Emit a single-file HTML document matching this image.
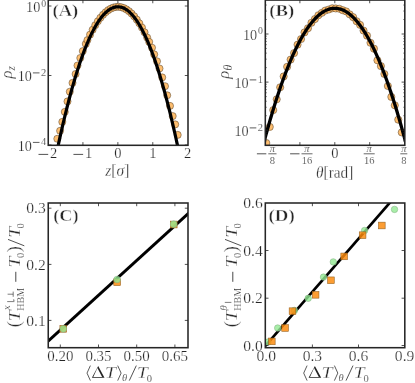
<!DOCTYPE html>
<html lang="en"><head><meta charset="utf-8"><title>figure</title>
<style>html,body{margin:0;padding:0;background:#fff;}svg{display:block;will-change:transform;font-family:"Liberation Serif",serif;}text{fill:#262626;}.t{stroke:#fff;stroke-width:0.24px;}.s{stroke:#fff;stroke-width:0.2px;}.u{stroke:#fff;stroke-width:0.3px;}</style>
</head><body>
<svg width="415" height="383" viewBox="0 0 415 383">
<rect width="415" height="383" fill="#fff"/>
<defs>
<clipPath id="cA"><rect x="48.4" y="0.6" width="139.6" height="144.7"/></clipPath>
<clipPath id="cB"><rect x="265.3" y="0.6" width="139.6" height="144.7"/></clipPath>
<clipPath id="cC"><rect x="48.4" y="203" width="139.6" height="144.7"/></clipPath>
<clipPath id="cD"><rect x="265.3" y="203" width="139.6" height="144.7"/></clipPath>
</defs>
<g clip-path="url(#cA)">
<circle cx="57.30" cy="138.80" r="3.55" fill="#fdbb68" fill-opacity="0.95" stroke="#3a2a18" stroke-width="0.45"/>
<circle cx="60.10" cy="130.80" r="3.55" fill="#fdbb68" fill-opacity="0.95" stroke="#3a2a18" stroke-width="0.45"/>
<circle cx="62.30" cy="121.90" r="3.55" fill="#fdbb68" fill-opacity="0.95" stroke="#3a2a18" stroke-width="0.45"/>
<circle cx="64.80" cy="111.90" r="3.55" fill="#fdbb68" fill-opacity="0.95" stroke="#3a2a18" stroke-width="0.45"/>
<circle cx="67.50" cy="101.40" r="3.55" fill="#fdbb68" fill-opacity="0.95" stroke="#3a2a18" stroke-width="0.45"/>
<circle cx="69.80" cy="91.70" r="3.55" fill="#fdbb68" fill-opacity="0.95" stroke="#3a2a18" stroke-width="0.45"/>
<circle cx="72.50" cy="82.90" r="3.55" fill="#fdbb68" fill-opacity="0.95" stroke="#3a2a18" stroke-width="0.45"/>
<circle cx="75.60" cy="74.00" r="3.55" fill="#fdbb68" fill-opacity="0.95" stroke="#3a2a18" stroke-width="0.45"/>
<circle cx="77.50" cy="65.50" r="3.55" fill="#fdbb68" fill-opacity="0.95" stroke="#3a2a18" stroke-width="0.45"/>
<circle cx="80.30" cy="58.00" r="3.55" fill="#fdbb68" fill-opacity="0.95" stroke="#3a2a18" stroke-width="0.45"/>
<circle cx="82.80" cy="51.10" r="3.55" fill="#fdbb68" fill-opacity="0.95" stroke="#3a2a18" stroke-width="0.45"/>
<circle cx="85.80" cy="43.90" r="3.55" fill="#fdbb68" fill-opacity="0.95" stroke="#3a2a18" stroke-width="0.45"/>
<circle cx="87.45" cy="40.08" r="3.55" fill="#fdbb68" fill-opacity="0.95" stroke="#3a2a18" stroke-width="0.45"/>
<circle cx="90.05" cy="34.65" r="3.55" fill="#fdbb68" fill-opacity="0.95" stroke="#3a2a18" stroke-width="0.45"/>
<circle cx="92.64" cy="29.70" r="3.55" fill="#fdbb68" fill-opacity="0.95" stroke="#3a2a18" stroke-width="0.45"/>
<circle cx="95.24" cy="25.23" r="3.55" fill="#fdbb68" fill-opacity="0.95" stroke="#3a2a18" stroke-width="0.45"/>
<circle cx="97.84" cy="21.25" r="3.55" fill="#fdbb68" fill-opacity="0.95" stroke="#3a2a18" stroke-width="0.45"/>
<circle cx="100.43" cy="17.75" r="3.55" fill="#fdbb68" fill-opacity="0.95" stroke="#3a2a18" stroke-width="0.45"/>
<circle cx="103.03" cy="14.74" r="3.55" fill="#fdbb68" fill-opacity="0.95" stroke="#3a2a18" stroke-width="0.45"/>
<circle cx="105.62" cy="12.21" r="3.55" fill="#fdbb68" fill-opacity="0.95" stroke="#3a2a18" stroke-width="0.45"/>
<circle cx="108.22" cy="10.16" r="3.55" fill="#fdbb68" fill-opacity="0.95" stroke="#3a2a18" stroke-width="0.45"/>
<circle cx="110.82" cy="8.60" r="3.55" fill="#fdbb68" fill-opacity="0.95" stroke="#3a2a18" stroke-width="0.45"/>
<circle cx="113.41" cy="7.52" r="3.55" fill="#fdbb68" fill-opacity="0.95" stroke="#3a2a18" stroke-width="0.45"/>
<circle cx="116.01" cy="6.93" r="3.55" fill="#fdbb68" fill-opacity="0.95" stroke="#3a2a18" stroke-width="0.45"/>
<circle cx="118.60" cy="6.82" r="3.55" fill="#fdbb68" fill-opacity="0.95" stroke="#3a2a18" stroke-width="0.45"/>
<circle cx="121.20" cy="7.19" r="3.55" fill="#fdbb68" fill-opacity="0.95" stroke="#3a2a18" stroke-width="0.45"/>
<circle cx="123.80" cy="8.05" r="3.55" fill="#fdbb68" fill-opacity="0.95" stroke="#3a2a18" stroke-width="0.45"/>
<circle cx="126.39" cy="9.39" r="3.55" fill="#fdbb68" fill-opacity="0.95" stroke="#3a2a18" stroke-width="0.45"/>
<circle cx="128.99" cy="11.21" r="3.55" fill="#fdbb68" fill-opacity="0.95" stroke="#3a2a18" stroke-width="0.45"/>
<circle cx="131.58" cy="13.52" r="3.55" fill="#fdbb68" fill-opacity="0.95" stroke="#3a2a18" stroke-width="0.45"/>
<circle cx="134.18" cy="16.31" r="3.55" fill="#fdbb68" fill-opacity="0.95" stroke="#3a2a18" stroke-width="0.45"/>
<circle cx="136.78" cy="19.59" r="3.55" fill="#fdbb68" fill-opacity="0.95" stroke="#3a2a18" stroke-width="0.45"/>
<circle cx="139.37" cy="23.35" r="3.55" fill="#fdbb68" fill-opacity="0.95" stroke="#3a2a18" stroke-width="0.45"/>
<circle cx="141.97" cy="27.59" r="3.55" fill="#fdbb68" fill-opacity="0.95" stroke="#3a2a18" stroke-width="0.45"/>
<circle cx="144.56" cy="32.32" r="3.55" fill="#fdbb68" fill-opacity="0.95" stroke="#3a2a18" stroke-width="0.45"/>
<circle cx="147.16" cy="37.53" r="3.55" fill="#fdbb68" fill-opacity="0.95" stroke="#3a2a18" stroke-width="0.45"/>
<circle cx="149.20" cy="41.90" r="3.55" fill="#fdbb68" fill-opacity="0.95" stroke="#3a2a18" stroke-width="0.45"/>
<circle cx="152.00" cy="47.70" r="3.55" fill="#fdbb68" fill-opacity="0.95" stroke="#3a2a18" stroke-width="0.45"/>
<circle cx="154.20" cy="54.40" r="3.55" fill="#fdbb68" fill-opacity="0.95" stroke="#3a2a18" stroke-width="0.45"/>
<circle cx="157.00" cy="61.30" r="3.55" fill="#fdbb68" fill-opacity="0.95" stroke="#3a2a18" stroke-width="0.45"/>
<circle cx="159.50" cy="68.50" r="3.55" fill="#fdbb68" fill-opacity="0.95" stroke="#3a2a18" stroke-width="0.45"/>
<circle cx="162.20" cy="77.40" r="3.55" fill="#fdbb68" fill-opacity="0.95" stroke="#3a2a18" stroke-width="0.45"/>
<circle cx="165.00" cy="86.20" r="3.55" fill="#fdbb68" fill-opacity="0.95" stroke="#3a2a18" stroke-width="0.45"/>
<circle cx="167.20" cy="95.30" r="3.55" fill="#fdbb68" fill-opacity="0.95" stroke="#3a2a18" stroke-width="0.45"/>
<circle cx="170.00" cy="105.90" r="3.55" fill="#fdbb68" fill-opacity="0.95" stroke="#3a2a18" stroke-width="0.45"/>
<circle cx="172.70" cy="116.10" r="3.55" fill="#fdbb68" fill-opacity="0.95" stroke="#3a2a18" stroke-width="0.45"/>
<circle cx="175.20" cy="124.40" r="3.55" fill="#fdbb68" fill-opacity="0.95" stroke="#3a2a18" stroke-width="0.45"/>
<circle cx="177.70" cy="134.90" r="3.55" fill="#fdbb68" fill-opacity="0.95" stroke="#3a2a18" stroke-width="0.45"/>
<polyline points="40.0,242.86 41.0,236.84 42.0,230.89 43.0,225.02 44.0,219.23 45.0,213.51 46.0,207.88 47.0,202.32 48.0,196.84 49.0,191.44 50.0,186.11 51.0,180.86 52.0,175.70 53.0,170.61 54.0,165.59 55.0,160.66 56.0,155.80 57.0,151.02 58.0,146.32 59.0,141.70 60.0,137.15 61.0,132.68 62.0,128.29 63.0,123.98 64.0,119.75 65.0,115.59 66.0,111.51 67.0,107.51 68.0,103.59 69.0,99.75 70.0,95.98 71.0,92.29 72.0,88.68 73.0,85.15 74.0,81.69 75.0,78.32 76.0,75.02 77.0,71.80 78.0,68.65 79.0,65.59 80.0,62.60 81.0,59.69 82.0,56.86 83.0,54.11 84.0,51.43 85.0,48.83 86.0,46.31 87.0,43.87 88.0,41.51 89.0,39.22 90.0,37.01 91.0,34.88 92.0,32.83 93.0,30.85 94.0,28.96 95.0,27.14 96.0,25.40 97.0,23.73 98.0,22.15 99.0,20.64 100.0,19.21 101.0,17.86 102.0,16.59 103.0,15.39 104.0,14.27 105.0,13.23 106.0,12.27 107.0,11.39 108.0,10.58 109.0,9.85 110.0,9.20 111.0,8.63 112.0,8.13 113.0,7.72 114.0,7.38 115.0,7.12 116.0,6.93 117.0,6.83 118.0,6.80 119.0,6.85 120.0,6.98 121.0,7.19 122.0,7.47 123.0,7.83 124.0,8.27 125.0,8.79 126.0,9.39 127.0,10.06 128.0,10.81 129.0,11.64 130.0,12.55 131.0,13.54 132.0,14.60 133.0,15.74 134.0,16.96 135.0,18.26 136.0,19.63 137.0,21.08 138.0,22.61 139.0,24.22 140.0,25.91 141.0,27.67 142.0,29.52 143.0,31.44 144.0,33.43 145.0,35.51 146.0,37.66 147.0,39.90 148.0,42.21 149.0,44.59 150.0,47.06 151.0,49.60 152.0,52.22 153.0,54.92 154.0,57.70 155.0,60.56 156.0,63.49 157.0,66.50 158.0,69.59 159.0,72.75 160.0,76.00 161.0,79.32 162.0,82.72 163.0,86.20 164.0,89.76 165.0,93.39 166.0,97.10 167.0,100.89 168.0,104.76 169.0,108.71 170.0,112.73 171.0,116.83 172.0,121.01 173.0,125.27 174.0,129.60 175.0,134.02 176.0,138.51 177.0,143.08 178.0,147.72 179.0,152.45 180.0,157.25 181.0,162.13 182.0,167.09 183.0,172.12 184.0,177.24 185.0,182.43 186.0,187.70 187.0,193.05 188.0,198.47 189.0,203.98 190.0,209.56 191.0,215.22 192.0,220.96 193.0,226.77 194.0,232.66 195.0,238.64 196.0,244.68" fill="none" stroke="#000" stroke-width="3.2" stroke-linejoin="round"/>
</g>
<rect x="48.25" y="0.05" width="139.75" height="145.25" fill="none" stroke="#262626" stroke-width="1.55"/>
<path d="M82.93 145.3 v-3.2 M82.93 0.05 v3.2" stroke="#262626" stroke-width="0.8" fill="none"/>
<path d="M117.86 145.3 v-3.2 M117.86 0.05 v3.2" stroke="#262626" stroke-width="0.8" fill="none"/>
<path d="M152.79 145.3 v-3.2 M152.79 0.05 v3.2" stroke="#262626" stroke-width="0.8" fill="none"/>
<path d="M48.25 75.50 h3.2 M188.0 75.50 h-3.2" stroke="#262626" stroke-width="0.8" fill="none"/>
<path d="M48.25 6.00 h3.2 M188.0 6.00 h-3.2" stroke="#262626" stroke-width="0.8" fill="none"/>
<path d="M48.25 145.00 h3.2 M188.0 145.00 h-3.2" stroke="#262626" stroke-width="0.8" fill="none"/>
<text x="57.2" y="158.1" font-size="14.5" class="t" text-anchor="end">2</text>
<path d="M38.50 154.40 H48.20" stroke="#262626" stroke-width="0.8" fill="none"/>
<text x="92.13000000000001" y="158.1" font-size="14.5" class="t" text-anchor="end">1</text>
<path d="M73.43 154.40 H83.13" stroke="#262626" stroke-width="0.8" fill="none"/>
<text x="117.86" y="158.1" font-size="14.5" class="t" text-anchor="middle">0</text>
<text x="152.79" y="158.1" font-size="14.5" class="t" text-anchor="middle">1</text>
<text x="187.72" y="158.1" font-size="14.5" class="t" text-anchor="middle">2</text>
<text x="46.2" y="6.700000000000001" font-size="10.5" class="s" text-anchor="end" textLength="4.9" lengthAdjust="spacingAndGlyphs">0</text>
<text x="40.300000000000004" y="12.3" font-size="14.5" class="t" text-anchor="end" textLength="14.2" lengthAdjust="spacingAndGlyphs">10</text>
<text x="46.2" y="75.60000000000001" font-size="10.5" class="s" text-anchor="end">2</text>
<path d="M32.90 72.90 H39.50" stroke="#262626" stroke-width="0.75" fill="none"/>
<text x="31.900000000000006" y="81.2" font-size="14.5" class="t" text-anchor="end" textLength="14.2" lengthAdjust="spacingAndGlyphs">10</text>
<text x="46.2" y="145.1" font-size="10.5" class="s" text-anchor="end">4</text>
<path d="M32.90 142.40 H39.50" stroke="#262626" stroke-width="0.75" fill="none"/>
<text x="31.900000000000006" y="150.7" font-size="14.5" class="t" text-anchor="end" textLength="14.2" lengthAdjust="spacingAndGlyphs">10</text>
<text x="105.3" y="175.7" font-size="17.5" class="u" textLength="24" lengthAdjust="spacingAndGlyphs"><tspan font-style="italic">z</tspan>[<tspan font-style="italic">σ</tspan>]</text>
<g transform="translate(12.0 78.6) rotate(-90)"><text x="0" y="0" font-size="16.5" class="u" font-style="italic">ρ</text><text x="8.2" y="2.7" font-size="11.5" class="s" font-style="italic">z</text></g>
<text x="52.5" y="16.0" font-size="17" class="u" text-anchor="start" font-weight="bold" textLength="25.8" lengthAdjust="spacingAndGlyphs" style="stroke-width:0.45px">(A)</text>
<g clip-path="url(#cB)">
<circle cx="266.30" cy="143.00" r="3.6" fill="#fdbb68" fill-opacity="0.95" stroke="#3a2a18" stroke-width="0.45"/>
<circle cx="269.77" cy="126.90" r="3.6" fill="#fdbb68" fill-opacity="0.95" stroke="#3a2a18" stroke-width="0.45"/>
<circle cx="273.25" cy="110.10" r="3.6" fill="#fdbb68" fill-opacity="0.95" stroke="#3a2a18" stroke-width="0.45"/>
<circle cx="276.72" cy="99.30" r="3.6" fill="#fdbb68" fill-opacity="0.95" stroke="#3a2a18" stroke-width="0.45"/>
<circle cx="280.19" cy="87.30" r="3.6" fill="#fdbb68" fill-opacity="0.95" stroke="#3a2a18" stroke-width="0.45"/>
<circle cx="283.67" cy="76.40" r="3.6" fill="#fdbb68" fill-opacity="0.95" stroke="#3a2a18" stroke-width="0.45"/>
<circle cx="287.14" cy="66.80" r="3.6" fill="#fdbb68" fill-opacity="0.95" stroke="#3a2a18" stroke-width="0.45"/>
<circle cx="290.61" cy="59.60" r="3.6" fill="#fdbb68" fill-opacity="0.95" stroke="#3a2a18" stroke-width="0.45"/>
<circle cx="294.08" cy="53.10" r="3.6" fill="#fdbb68" fill-opacity="0.95" stroke="#3a2a18" stroke-width="0.45"/>
<circle cx="297.56" cy="44.67" r="3.6" fill="#fdbb68" fill-opacity="0.95" stroke="#3a2a18" stroke-width="0.45"/>
<circle cx="301.03" cy="39.11" r="3.6" fill="#fdbb68" fill-opacity="0.95" stroke="#3a2a18" stroke-width="0.45"/>
<circle cx="304.50" cy="32.39" r="3.6" fill="#fdbb68" fill-opacity="0.95" stroke="#3a2a18" stroke-width="0.45"/>
<circle cx="307.98" cy="28.23" r="3.6" fill="#fdbb68" fill-opacity="0.95" stroke="#3a2a18" stroke-width="0.45"/>
<circle cx="311.45" cy="22.76" r="3.6" fill="#fdbb68" fill-opacity="0.95" stroke="#3a2a18" stroke-width="0.45"/>
<circle cx="314.92" cy="19.05" r="3.6" fill="#fdbb68" fill-opacity="0.95" stroke="#3a2a18" stroke-width="0.45"/>
<circle cx="318.39" cy="15.24" r="3.6" fill="#fdbb68" fill-opacity="0.95" stroke="#3a2a18" stroke-width="0.45"/>
<circle cx="321.87" cy="12.84" r="3.6" fill="#fdbb68" fill-opacity="0.95" stroke="#3a2a18" stroke-width="0.45"/>
<circle cx="325.34" cy="10.54" r="3.6" fill="#fdbb68" fill-opacity="0.95" stroke="#3a2a18" stroke-width="0.45"/>
<circle cx="328.81" cy="9.51" r="3.6" fill="#fdbb68" fill-opacity="0.95" stroke="#3a2a18" stroke-width="0.45"/>
<circle cx="332.29" cy="8.24" r="3.6" fill="#fdbb68" fill-opacity="0.95" stroke="#3a2a18" stroke-width="0.45"/>
<circle cx="335.76" cy="8.45" r="3.6" fill="#fdbb68" fill-opacity="0.95" stroke="#3a2a18" stroke-width="0.45"/>
<circle cx="339.23" cy="8.75" r="3.6" fill="#fdbb68" fill-opacity="0.95" stroke="#3a2a18" stroke-width="0.45"/>
<circle cx="342.71" cy="10.19" r="3.6" fill="#fdbb68" fill-opacity="0.95" stroke="#3a2a18" stroke-width="0.45"/>
<circle cx="346.18" cy="11.46" r="3.6" fill="#fdbb68" fill-opacity="0.95" stroke="#3a2a18" stroke-width="0.45"/>
<circle cx="349.65" cy="14.36" r="3.6" fill="#fdbb68" fill-opacity="0.95" stroke="#3a2a18" stroke-width="0.45"/>
<circle cx="353.12" cy="17.14" r="3.6" fill="#fdbb68" fill-opacity="0.95" stroke="#3a2a18" stroke-width="0.45"/>
<circle cx="356.60" cy="21.26" r="3.6" fill="#fdbb68" fill-opacity="0.95" stroke="#3a2a18" stroke-width="0.45"/>
<circle cx="360.07" cy="24.87" r="3.6" fill="#fdbb68" fill-opacity="0.95" stroke="#3a2a18" stroke-width="0.45"/>
<circle cx="363.54" cy="30.60" r="3.6" fill="#fdbb68" fill-opacity="0.95" stroke="#3a2a18" stroke-width="0.45"/>
<circle cx="367.02" cy="35.65" r="3.6" fill="#fdbb68" fill-opacity="0.95" stroke="#3a2a18" stroke-width="0.45"/>
<circle cx="370.49" cy="42.79" r="3.6" fill="#fdbb68" fill-opacity="0.95" stroke="#3a2a18" stroke-width="0.45"/>
<circle cx="373.96" cy="48.65" r="3.6" fill="#fdbb68" fill-opacity="0.95" stroke="#3a2a18" stroke-width="0.45"/>
<circle cx="377.44" cy="60.30" r="3.6" fill="#fdbb68" fill-opacity="0.95" stroke="#3a2a18" stroke-width="0.45"/>
<circle cx="380.91" cy="66.10" r="3.6" fill="#fdbb68" fill-opacity="0.95" stroke="#3a2a18" stroke-width="0.45"/>
<circle cx="384.38" cy="74.00" r="3.6" fill="#fdbb68" fill-opacity="0.95" stroke="#3a2a18" stroke-width="0.45"/>
<circle cx="387.86" cy="86.00" r="3.6" fill="#fdbb68" fill-opacity="0.95" stroke="#3a2a18" stroke-width="0.45"/>
<circle cx="391.33" cy="96.90" r="3.6" fill="#fdbb68" fill-opacity="0.95" stroke="#3a2a18" stroke-width="0.45"/>
<circle cx="394.80" cy="105.30" r="3.6" fill="#fdbb68" fill-opacity="0.95" stroke="#3a2a18" stroke-width="0.45"/>
<circle cx="398.27" cy="119.70" r="3.6" fill="#fdbb68" fill-opacity="0.95" stroke="#3a2a18" stroke-width="0.45"/>
<circle cx="401.75" cy="132.40" r="3.6" fill="#fdbb68" fill-opacity="0.95" stroke="#3a2a18" stroke-width="0.45"/>
<polyline points="258.0,165.78 259.0,161.71 260.0,157.69 261.0,153.72 262.0,149.81 263.0,145.94 264.0,142.14 265.0,138.38 266.0,134.68 267.0,131.04 268.0,127.44 269.0,123.90 270.0,120.41 271.0,116.98 272.0,113.60 273.0,110.27 274.0,107.00 275.0,103.78 276.0,100.61 277.0,97.50 278.0,94.44 279.0,91.43 280.0,88.48 281.0,85.58 282.0,82.74 283.0,79.94 284.0,77.20 285.0,74.52 286.0,71.88 287.0,69.31 288.0,66.78 289.0,64.31 290.0,61.89 291.0,59.52 292.0,57.21 293.0,54.95 294.0,52.75 295.0,50.59 296.0,48.50 297.0,46.45 298.0,44.46 299.0,42.52 300.0,40.63 301.0,38.80 302.0,37.02 303.0,35.30 304.0,33.63 305.0,32.01 306.0,30.45 307.0,28.93 308.0,27.48 309.0,26.07 310.0,24.72 311.0,23.42 312.0,22.18 313.0,20.99 314.0,19.85 315.0,18.77 316.0,17.74 317.0,16.76 318.0,15.84 319.0,14.97 320.0,14.15 321.0,13.38 322.0,12.67 323.0,12.02 324.0,11.41 325.0,10.86 326.0,10.37 327.0,9.92 328.0,9.53 329.0,9.20 330.0,8.92 331.0,8.69 332.0,8.51 333.0,8.39 334.0,8.32 335.0,8.30 336.0,8.34 337.0,8.43 338.0,8.57 339.0,8.77 340.0,9.02 341.0,9.33 342.0,9.68 343.0,10.10 344.0,10.56 345.0,11.08 346.0,11.65 347.0,12.27 348.0,12.95 349.0,13.68 350.0,14.47 351.0,15.31 352.0,16.20 353.0,17.14 354.0,18.14 355.0,19.19 356.0,20.30 357.0,21.46 358.0,22.67 359.0,23.94 360.0,25.26 361.0,26.63 362.0,28.05 363.0,29.53 364.0,31.07 365.0,32.65 366.0,34.29 367.0,35.98 368.0,37.73 369.0,39.53 370.0,41.38 371.0,43.29 372.0,45.25 373.0,47.26 374.0,49.33 375.0,51.45 376.0,53.62 377.0,55.85 378.0,58.13 379.0,60.46 380.0,62.85 381.0,65.29 382.0,67.78 383.0,70.33 384.0,72.93 385.0,75.59 386.0,78.29 387.0,81.05 388.0,83.87 389.0,86.73 390.0,89.66 391.0,92.63 392.0,95.66 393.0,98.74 394.0,101.87 395.0,105.06 396.0,108.30 397.0,111.60 398.0,114.95 399.0,118.35 400.0,121.80 401.0,125.31 402.0,128.87 403.0,132.49 404.0,136.16 405.0,139.88 406.0,143.65 407.0,147.48 408.0,151.37 409.0,155.30 410.0,159.29 411.0,163.33 412.0,167.43" fill="none" stroke="#000" stroke-width="3.3" stroke-linejoin="round"/>
</g>
<rect x="265.3" y="0.05" width="139.50" height="145.25" fill="none" stroke="#262626" stroke-width="1.55"/>
<path d="M299.90 145.3 v-3.2 M299.90 0.05 v3.2" stroke="#262626" stroke-width="0.8" fill="none"/>
<path d="M334.80 145.3 v-3.2 M334.80 0.05 v3.2" stroke="#262626" stroke-width="0.8" fill="none"/>
<path d="M369.70 145.3 v-3.2 M369.70 0.05 v3.2" stroke="#262626" stroke-width="0.8" fill="none"/>
<path d="M265.3 34.00 h3.2 M404.8 34.00 h-3.2" stroke="#262626" stroke-width="0.8" fill="none"/>
<path d="M265.3 82.10 h3.2 M404.8 82.10 h-3.2" stroke="#262626" stroke-width="0.8" fill="none"/>
<path d="M265.3 130.20 h3.2 M404.8 130.20 h-3.2" stroke="#262626" stroke-width="0.8" fill="none"/>
<path d="M265.3 19.52 h1.7 M404.8 19.52 h-1.7" stroke="#262626" stroke-width="0.5" fill="none"/>
<path d="M265.3 11.05 h1.7 M404.8 11.05 h-1.7" stroke="#262626" stroke-width="0.5" fill="none"/>
<path d="M265.3 5.04 h1.7 M404.8 5.04 h-1.7" stroke="#262626" stroke-width="0.5" fill="none"/>
<path d="M265.3 67.62 h1.7 M404.8 67.62 h-1.7" stroke="#262626" stroke-width="0.5" fill="none"/>
<path d="M265.3 59.15 h1.7 M404.8 59.15 h-1.7" stroke="#262626" stroke-width="0.5" fill="none"/>
<path d="M265.3 53.14 h1.7 M404.8 53.14 h-1.7" stroke="#262626" stroke-width="0.5" fill="none"/>
<path d="M265.3 48.48 h1.7 M404.8 48.48 h-1.7" stroke="#262626" stroke-width="0.5" fill="none"/>
<path d="M265.3 44.67 h1.7 M404.8 44.67 h-1.7" stroke="#262626" stroke-width="0.5" fill="none"/>
<path d="M265.3 41.45 h1.7 M404.8 41.45 h-1.7" stroke="#262626" stroke-width="0.5" fill="none"/>
<path d="M265.3 38.66 h1.7 M404.8 38.66 h-1.7" stroke="#262626" stroke-width="0.5" fill="none"/>
<path d="M265.3 36.20 h1.7 M404.8 36.20 h-1.7" stroke="#262626" stroke-width="0.5" fill="none"/>
<path d="M265.3 115.72 h1.7 M404.8 115.72 h-1.7" stroke="#262626" stroke-width="0.5" fill="none"/>
<path d="M265.3 107.25 h1.7 M404.8 107.25 h-1.7" stroke="#262626" stroke-width="0.5" fill="none"/>
<path d="M265.3 101.24 h1.7 M404.8 101.24 h-1.7" stroke="#262626" stroke-width="0.5" fill="none"/>
<path d="M265.3 96.58 h1.7 M404.8 96.58 h-1.7" stroke="#262626" stroke-width="0.5" fill="none"/>
<path d="M265.3 92.77 h1.7 M404.8 92.77 h-1.7" stroke="#262626" stroke-width="0.5" fill="none"/>
<path d="M265.3 89.55 h1.7 M404.8 89.55 h-1.7" stroke="#262626" stroke-width="0.5" fill="none"/>
<path d="M265.3 86.76 h1.7 M404.8 86.76 h-1.7" stroke="#262626" stroke-width="0.5" fill="none"/>
<path d="M265.3 84.30 h1.7 M404.8 84.30 h-1.7" stroke="#262626" stroke-width="0.5" fill="none"/>
<path d="M265.3 140.87 h1.7 M404.8 140.87 h-1.7" stroke="#262626" stroke-width="0.5" fill="none"/>
<path d="M265.3 137.65 h1.7 M404.8 137.65 h-1.7" stroke="#262626" stroke-width="0.5" fill="none"/>
<path d="M265.3 134.86 h1.7 M404.8 134.86 h-1.7" stroke="#262626" stroke-width="0.5" fill="none"/>
<path d="M265.3 132.40 h1.7 M404.8 132.40 h-1.7" stroke="#262626" stroke-width="0.5" fill="none"/>
<text x="272.4" y="151.8" font-size="10.5" class="s" text-anchor="middle" font-style="italic">π</text>
<path d="M268.30 153.8 h8.2" stroke="#262626" stroke-width="0.7"/>
<text x="272.4" y="163.6" font-size="10.5" class="s" text-anchor="middle">8</text>
<path d="M256.90 153.8 h9.4" stroke="#262626" stroke-width="0.8"/>
<text x="307.0" y="151.8" font-size="10.5" class="s" text-anchor="middle" font-style="italic">π</text>
<path d="M301.50 153.8 h11.0" stroke="#262626" stroke-width="0.7"/>
<text x="307.0" y="163.6" font-size="10.5" class="s" text-anchor="middle">16</text>
<path d="M290.10 153.8 h9.4" stroke="#262626" stroke-width="0.8"/>
<text x="334.8" y="158.0" font-size="14.5" class="t" text-anchor="middle">0</text>
<text x="369.2" y="151.8" font-size="10.5" class="s" text-anchor="middle" font-style="italic">π</text>
<path d="M363.70 153.8 h11.0" stroke="#262626" stroke-width="0.7"/>
<text x="369.2" y="163.6" font-size="10.5" class="s" text-anchor="middle">16</text>
<text x="403.8" y="151.8" font-size="10.5" class="s" text-anchor="middle" font-style="italic">π</text>
<path d="M400.30 153.8 h7.0" stroke="#262626" stroke-width="0.7"/>
<text x="403.8" y="163.6" font-size="10.5" class="s" text-anchor="middle">8</text>
<text x="263.0" y="34.4" font-size="10.5" class="s" text-anchor="end" textLength="4.9" lengthAdjust="spacingAndGlyphs">0</text>
<text x="257.1" y="40.0" font-size="14.5" class="t" text-anchor="end" textLength="14.2" lengthAdjust="spacingAndGlyphs">10</text>
<text x="263.0" y="82.60000000000001" font-size="10.5" class="s" text-anchor="end">1</text>
<path d="M249.70 79.90 H256.30" stroke="#262626" stroke-width="0.75" fill="none"/>
<text x="248.7" y="88.2" font-size="14.5" class="t" text-anchor="end" textLength="14.2" lengthAdjust="spacingAndGlyphs">10</text>
<text x="263.0" y="130.6" font-size="10.5" class="s" text-anchor="end">2</text>
<path d="M249.70 127.90 H256.30" stroke="#262626" stroke-width="0.75" fill="none"/>
<text x="248.7" y="136.2" font-size="14.5" class="t" text-anchor="end" textLength="14.2" lengthAdjust="spacingAndGlyphs">10</text>
<text x="316.1" y="178.1" font-size="17.5" class="u" textLength="37.2" lengthAdjust="spacingAndGlyphs"><tspan font-style="italic">θ</tspan>[rad]</text>
<g transform="translate(229.2 78.8) rotate(-90)"><text x="0" y="0" font-size="16.5" class="u" font-style="italic">ρ</text><text x="8.2" y="2.6" font-size="12" class="s" font-style="italic">θ</text></g>
<text x="269.3" y="16.2" font-size="17" class="u" text-anchor="start" font-weight="bold" textLength="25.0" lengthAdjust="spacingAndGlyphs" style="stroke-width:0.45px">(B)</text>
<g clip-path="url(#cC)">
<path d="M40 348.58 L196 206.40" stroke="#000" stroke-width="2.9" fill="none"/>
<rect x="59.90" y="325.40" width="6.8" height="6.8" fill="#fb8a0c" fill-opacity="0.84" stroke="#8f5f20" stroke-width="0.55"/>
<circle cx="63.3" cy="328.8" r="3.35" fill="#92ea92" fill-opacity="0.8" stroke="#84ac84" stroke-width="0.5"/>
<rect x="113.75" y="278.80" width="6.8" height="6.8" fill="#fb8a0c" fill-opacity="0.84" stroke="#8f5f20" stroke-width="0.55"/>
<circle cx="117.1" cy="279.5" r="3.35" fill="#92ea92" fill-opacity="0.8" stroke="#84ac84" stroke-width="0.5"/>
<rect x="170.30" y="221.10" width="6.8" height="6.8" fill="#fb8a0c" fill-opacity="0.84" stroke="#8f5f20" stroke-width="0.55"/>
<circle cx="173.7" cy="224.2" r="3.35" fill="#92ea92" fill-opacity="0.8" stroke="#84ac84" stroke-width="0.5"/>
</g>
<rect x="48.25" y="203.0" width="139.75" height="144.70" fill="none" stroke="#262626" stroke-width="1.55"/>
<path d="M60.30 347.7 v-3.2 M60.30 203.0 v3.2" stroke="#262626" stroke-width="0.8" fill="none"/>
<path d="M98.50 347.7 v-3.2 M98.50 203.0 v3.2" stroke="#262626" stroke-width="0.8" fill="none"/>
<path d="M136.70 347.7 v-3.2 M136.70 203.0 v3.2" stroke="#262626" stroke-width="0.8" fill="none"/>
<path d="M174.90 347.7 v-3.2 M174.90 203.0 v3.2" stroke="#262626" stroke-width="0.8" fill="none"/>
<path d="M48.25 208.20 h3.2 M188.0 208.20 h-3.2" stroke="#262626" stroke-width="0.8" fill="none"/>
<path d="M48.25 264.40 h3.2 M188.0 264.40 h-3.2" stroke="#262626" stroke-width="0.8" fill="none"/>
<path d="M48.25 320.40 h3.2 M188.0 320.40 h-3.2" stroke="#262626" stroke-width="0.8" fill="none"/>
<text x="60.3" y="361.2" font-size="14.5" class="t" text-anchor="middle" textLength="26.2" lengthAdjust="spacingAndGlyphs">0.20</text>
<text x="98.5" y="361.2" font-size="14.5" class="t" text-anchor="middle" textLength="26.2" lengthAdjust="spacingAndGlyphs">0.35</text>
<text x="136.7" y="361.2" font-size="14.5" class="t" text-anchor="middle" textLength="26.2" lengthAdjust="spacingAndGlyphs">0.50</text>
<text x="174.9" y="361.2" font-size="14.5" class="t" text-anchor="middle" textLength="26.2" lengthAdjust="spacingAndGlyphs">0.65</text>
<text x="45.8" y="213.39999999999998" font-size="14.5" class="t" text-anchor="end" textLength="19.5" lengthAdjust="spacingAndGlyphs">0.3</text>
<text x="45.8" y="269.59999999999997" font-size="14.5" class="t" text-anchor="end" textLength="19.5" lengthAdjust="spacingAndGlyphs">0.2</text>
<text x="45.8" y="325.59999999999997" font-size="14.5" class="t" text-anchor="end" textLength="19.5" lengthAdjust="spacingAndGlyphs">0.1</text>
<text x="53.2" y="221.0" font-size="17" class="u" text-anchor="start" font-weight="bold" textLength="25.4" lengthAdjust="spacingAndGlyphs" style="stroke-width:0.45px">(C)</text>
<g transform="translate(20.2 327.4) rotate(-90)">
<text x="0.2" y="0" font-size="18.5" class="u">(</text>
<text x="6.2" y="0" font-size="17.5" class="u" font-style="italic" textLength="10.8" lengthAdjust="spacingAndGlyphs">T</text>
<text x="16.7" y="4.0" font-size="11.3" class="s" textLength="22.8" lengthAdjust="spacingAndGlyphs">HBM</text>
<text x="17.4" y="-10.2" font-size="10.5" class="s" font-style="italic">x</text><path d="M25.8 -13.0 v7.2" stroke="#262626" stroke-width="0.6"/><text x="26.4" y="-6.6" font-size="7.5">,</text><path d="M33.2 -12.6 v5.6 M30.6 -7.0 h5.2" stroke="#262626" stroke-width="0.6" fill="none"/>
<path d="M45.6 -4.4 H55.6" stroke="#262626" stroke-width="0.85"/>
<text x="59.8" y="0" font-size="17.5" class="u" font-style="italic" textLength="10.8" lengthAdjust="spacingAndGlyphs">T</text>
<text x="69.4" y="3.6" font-size="10.5" class="s">0</text>
<text x="75.2" y="0" font-size="18.5" class="u">)</text>
<path d="M81.6 4.1 L88.0 -12.2" stroke="#262626" stroke-width="0.8" fill="none"/>
<text x="89.6" y="0" font-size="17.5" class="u" font-style="italic" textLength="10.8" lengthAdjust="spacingAndGlyphs">T</text>
<text x="98.8" y="3.6" font-size="10.5" class="s">0</text>
</g>
<g transform="translate(86.7 377.8)">
<path d="M3.7 -12.2 L0.3 -4.7 L3.7 2.8" stroke="#262626" stroke-width="0.75" fill="none"/>
<path d="M5.2 0 L11.5 -11.9 L17.8 0 Z M6.6 -0.9 L15.4 -0.9 L10.7 -9.7 Z" fill="#262626" fill-rule="evenodd"/>
<text x="18.2" y="0" font-size="17.5" class="u" font-style="italic" textLength="11.0" lengthAdjust="spacingAndGlyphs">T</text>
<path d="M31.0 -12.2 L34.4 -4.7 L31.0 2.8" stroke="#262626" stroke-width="0.75" fill="none"/>
<text x="35.2" y="3.6" font-size="10.5" class="s" font-style="italic">θ</text>
<path d="M42.6 2.8 L49.6 -12.2" stroke="#262626" stroke-width="0.8" fill="none"/>
<text x="50.4" y="0" font-size="17.5" class="u" font-style="italic" textLength="10.8" lengthAdjust="spacingAndGlyphs">T</text>
<text x="60.0" y="3.8" font-size="10.5" class="s">0</text>
</g>
<g clip-path="url(#cD)">
<path d="M257.10 355.32 L398.50 192.77" stroke="#000" stroke-width="2.7" fill="none"/>
<circle cx="267.9" cy="342.1" r="3.25" fill="#92ea92" fill-opacity="0.8" stroke="#84ac84" stroke-width="0.5"/>
<circle cx="277.7" cy="328.0" r="3.25" fill="#92ea92" fill-opacity="0.8" stroke="#84ac84" stroke-width="0.5"/>
<circle cx="294.4" cy="310.4" r="3.25" fill="#92ea92" fill-opacity="0.8" stroke="#84ac84" stroke-width="0.5"/>
<circle cx="308.2" cy="298.3" r="3.25" fill="#92ea92" fill-opacity="0.8" stroke="#84ac84" stroke-width="0.5"/>
<circle cx="323.5" cy="277.1" r="3.25" fill="#92ea92" fill-opacity="0.8" stroke="#84ac84" stroke-width="0.5"/>
<circle cx="333.3" cy="261.9" r="3.25" fill="#92ea92" fill-opacity="0.8" stroke="#84ac84" stroke-width="0.5"/>
<circle cx="364.6" cy="230.5" r="3.25" fill="#92ea92" fill-opacity="0.8" stroke="#84ac84" stroke-width="0.5"/>
<circle cx="394.5" cy="209.4" r="3.25" fill="#92ea92" fill-opacity="0.8" stroke="#84ac84" stroke-width="0.5"/>
<rect x="268.45" y="338.05" width="6.7" height="6.7" fill="#fb8a0c" fill-opacity="0.84" stroke="#8f5f20" stroke-width="0.55"/>
<rect x="281.75" y="324.65" width="6.7" height="6.7" fill="#fb8a0c" fill-opacity="0.84" stroke="#8f5f20" stroke-width="0.55"/>
<rect x="289.15" y="307.85" width="6.7" height="6.7" fill="#fb8a0c" fill-opacity="0.84" stroke="#8f5f20" stroke-width="0.55"/>
<rect x="312.25" y="291.45" width="6.7" height="6.7" fill="#fb8a0c" fill-opacity="0.84" stroke="#8f5f20" stroke-width="0.55"/>
<rect x="327.55" y="276.95" width="6.7" height="6.7" fill="#fb8a0c" fill-opacity="0.84" stroke="#8f5f20" stroke-width="0.55"/>
<rect x="340.85" y="253.05" width="6.7" height="6.7" fill="#fb8a0c" fill-opacity="0.84" stroke="#8f5f20" stroke-width="0.55"/>
<rect x="359.25" y="231.85" width="6.7" height="6.7" fill="#fb8a0c" fill-opacity="0.84" stroke="#8f5f20" stroke-width="0.55"/>
<rect x="378.45" y="222.15" width="6.7" height="6.7" fill="#fb8a0c" fill-opacity="0.84" stroke="#8f5f20" stroke-width="0.55"/>
</g>
<rect x="265.3" y="203.0" width="139.50" height="144.70" fill="none" stroke="#262626" stroke-width="1.55"/>
<path d="M312.40 347.7 v-3.2 M312.40 203.0 v3.2" stroke="#262626" stroke-width="0.8" fill="none"/>
<path d="M358.50 347.7 v-3.2 M358.50 203.0 v3.2" stroke="#262626" stroke-width="0.8" fill="none"/>
<path d="M265.3 345.50 h3.2 M404.8 345.50 h-3.2" stroke="#262626" stroke-width="0.8" fill="none"/>
<path d="M265.3 298.20 h3.2 M404.8 298.20 h-3.2" stroke="#262626" stroke-width="0.8" fill="none"/>
<path d="M265.3 250.50 h3.2 M404.8 250.50 h-3.2" stroke="#262626" stroke-width="0.8" fill="none"/>
<text x="266.3" y="361.2" font-size="14.5" class="t" text-anchor="middle" textLength="19.5" lengthAdjust="spacingAndGlyphs">0.0</text>
<text x="312.40000000000003" y="361.2" font-size="14.5" class="t" text-anchor="middle" textLength="19.5" lengthAdjust="spacingAndGlyphs">0.3</text>
<text x="358.5" y="361.2" font-size="14.5" class="t" text-anchor="middle" textLength="19.5" lengthAdjust="spacingAndGlyphs">0.6</text>
<text x="404.6" y="361.2" font-size="14.5" class="t" text-anchor="middle" textLength="19.5" lengthAdjust="spacingAndGlyphs">0.9</text>
<text x="262.8" y="350.7" font-size="14.5" class="t" text-anchor="end" textLength="19.5" lengthAdjust="spacingAndGlyphs">0.0</text>
<text x="262.8" y="303.4" font-size="14.5" class="t" text-anchor="end" textLength="19.5" lengthAdjust="spacingAndGlyphs">0.2</text>
<text x="262.8" y="255.7" font-size="14.5" class="t" text-anchor="end" textLength="19.5" lengthAdjust="spacingAndGlyphs">0.4</text>
<text x="262.8" y="208.2" font-size="14.5" class="t" text-anchor="end" textLength="19.5" lengthAdjust="spacingAndGlyphs">0.6</text>
<text x="268.5" y="221.0" font-size="17" class="u" text-anchor="start" font-weight="bold" textLength="26.2" lengthAdjust="spacingAndGlyphs" style="stroke-width:0.45px">(D)</text>
<g transform="translate(237.2 327.4) rotate(-90)">
<text x="0.2" y="0" font-size="18.5" class="u">(</text>
<text x="6.2" y="0" font-size="17.5" class="u" font-style="italic" textLength="10.8" lengthAdjust="spacingAndGlyphs">T</text>
<text x="16.7" y="4.0" font-size="11.3" class="s" textLength="22.8" lengthAdjust="spacingAndGlyphs">HBM</text>
<text x="17.0" y="-10.4" font-size="10.5" class="s" font-style="italic">θ</text><path d="M25.0 -12.4 v6.6" stroke="#262626" stroke-width="0.6"/>
<path d="M45.6 -4.4 H55.6" stroke="#262626" stroke-width="0.85"/>
<text x="59.8" y="0" font-size="17.5" class="u" font-style="italic" textLength="10.8" lengthAdjust="spacingAndGlyphs">T</text>
<text x="69.4" y="3.6" font-size="10.5" class="s">0</text>
<text x="75.2" y="0" font-size="18.5" class="u">)</text>
<path d="M81.6 4.1 L88.0 -12.2" stroke="#262626" stroke-width="0.8" fill="none"/>
<text x="89.6" y="0" font-size="17.5" class="u" font-style="italic" textLength="10.8" lengthAdjust="spacingAndGlyphs">T</text>
<text x="98.8" y="3.6" font-size="10.5" class="s">0</text>
</g>
<g transform="translate(303.4 377.8)">
<path d="M3.7 -12.2 L0.3 -4.7 L3.7 2.8" stroke="#262626" stroke-width="0.75" fill="none"/>
<path d="M5.2 0 L11.5 -11.9 L17.8 0 Z M6.6 -0.9 L15.4 -0.9 L10.7 -9.7 Z" fill="#262626" fill-rule="evenodd"/>
<text x="18.2" y="0" font-size="17.5" class="u" font-style="italic" textLength="11.0" lengthAdjust="spacingAndGlyphs">T</text>
<path d="M31.0 -12.2 L34.4 -4.7 L31.0 2.8" stroke="#262626" stroke-width="0.75" fill="none"/>
<text x="35.2" y="3.6" font-size="10.5" class="s" font-style="italic">θ</text>
<path d="M42.6 2.8 L49.6 -12.2" stroke="#262626" stroke-width="0.8" fill="none"/>
<text x="50.4" y="0" font-size="17.5" class="u" font-style="italic" textLength="10.8" lengthAdjust="spacingAndGlyphs">T</text>
<text x="60.0" y="3.8" font-size="10.5" class="s">0</text>
</g>
</svg></body></html>
